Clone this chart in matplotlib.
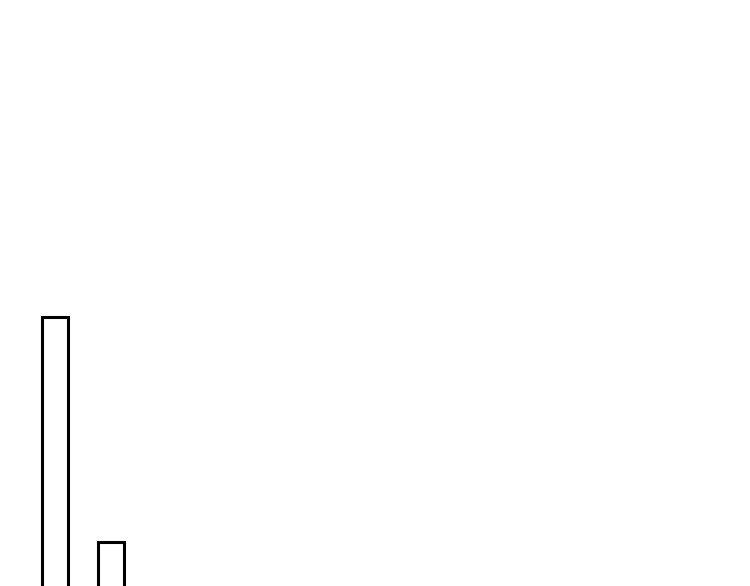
import matplotlib
matplotlib.use('Agg')
import matplotlib.pyplot as plt

categories = [0, 1]
values = [272, 47]

fig = plt.figure(figsize=(7.5, 5.86), dpi=100)
ax = fig.add_axes([0, 0, 1, 1])

ax.bar(categories, values, width=0.46, facecolor='white',
       edgecolor='black', linewidth=2.2)

# window onto the data: bars sit at the far left, baseline just below the frame
ax.set_xlim(-0.982, -0.982 + 750 / 56)
ax.set_ylim(3, 589)
ax.axis('off')

fig.savefig('out.png', dpi=100, facecolor='white')
